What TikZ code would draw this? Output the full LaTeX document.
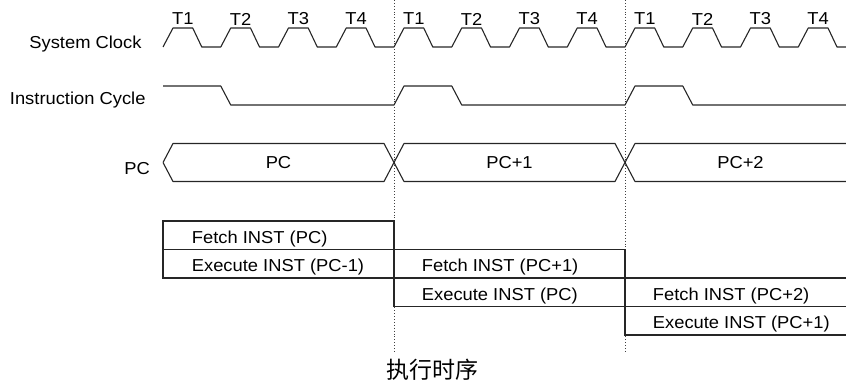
\documentclass[tikz,border=0pt]{standalone}
\usepackage{fontspec}
\setmainfont{Liberation Sans}[FakeStretch=1.06]
\newfontfamily\cjk{Noto Sans CJK SC}
\tikzset{
  wave/.style={line width=1.1pt, draw=black!85, line join=round},
  cellbox/.style={line width=1.1pt, draw=black!85},
  marker/.style={line width=0.9pt, draw=black!75, dotted},
  sigtext/.style={font=\fontsize{17.3}{20}\selectfont, inner sep=0pt, anchor=base east},
  tlabel/.style={font=\fontsize{17.3}{20}\selectfont, inner sep=0pt},
  celltext/.style={font=\fontsize{17.3}{20}\selectfont, inner sep=0pt, anchor=base west},
  caption/.style={font=\cjk\fontsize{23}{26}\selectfont, inner sep=0pt},
}
\begin{document}
\begin{tikzpicture}[x=1pt,y=-1pt]
\useasboundingbox (0,0) rectangle (846,385);
% cycle markers
\draw[marker] (394,0) -- (394,352);
\draw[marker] (625,0) -- (625,352);
% signal names
\node[sigtext] (clkname) at (141.7,49) {System Clock};
\node[sigtext] (cycname) at (145.7,105) {Instruction Cycle};
\node[sigtext] (pcname) at (150,174.3) {PC};
% system clock
\draw[wave] (163,47) -- (173,28) -- (192.75,28) -- (201.75,47)
  -- (220.75,47) -- (230.75,28) -- (250.5,28) -- (259.5,47)
  -- (278.5,47) -- (288.5,28) -- (308.25,28) -- (317.25,47)
  -- (336.25,47) -- (346.25,28) -- (366,28) -- (375,47)
  -- (394,47) -- (404,28) -- (423.75,28) -- (432.75,47)
  -- (451.75,47) -- (461.75,28) -- (481.5,28) -- (490.5,47)
  -- (509.5,47) -- (519.5,28) -- (539.25,28) -- (548.25,47)
  -- (567.25,47) -- (577.25,28) -- (597,28) -- (606,47)
  -- (625,47) -- (635,28) -- (654.75,28) -- (663.75,47)
  -- (682.75,47) -- (692.75,28) -- (712.5,28) -- (721.5,47)
  -- (740.5,47) -- (750.5,28) -- (770.25,28) -- (779.25,47)
  -- (798.25,47) -- (808.25,28) -- (828,28) -- (837,47) -- (846,47);
\node[tlabel] (ta1) at (182.9,19) {T1};
\node[tlabel] (ta2) at (240.6,19) {T2};
\node[tlabel] (ta3) at (298.4,19) {T3};
\node[tlabel] (ta4) at (356.1,19) {T4};
\node[tlabel] (tb1) at (413.9,19) {T1};
\node[tlabel] (tb2) at (471.6,19) {T2};
\node[tlabel] (tb3) at (529.4,19) {T3};
\node[tlabel] (tb4) at (587.1,19) {T4};
\node[tlabel] (tc1) at (644.9,19) {T1};
\node[tlabel] (tc2) at (702.6,19) {T2};
\node[tlabel] (tc3) at (760.4,19) {T3};
\node[tlabel] (tc4) at (818.1,19) {T4};
% instruction cycle
\draw[wave] (163,86) -- (220.75,86) -- (230.75,105) -- (394,105)
  -- (404,86) -- (451.75,86) -- (461.75,105) -- (625,105)
  -- (635,86) -- (682.75,86) -- (692.75,105) -- (846,105);
% program counter bus
\draw[wave] (163,162.5) -- (173,143.5) -- (384,143.5) -- (404,181.5)
  -- (615,181.5) -- (635,143.5) -- (846,143.5);
\draw[wave] (163,162.5) -- (173,181.5) -- (384,181.5) -- (404,143.5)
  -- (615,143.5) -- (635,181.5) -- (846,181.5);
\node[tlabel] (pc0) at (278.5,163) {PC};
\node[tlabel] (pc1) at (509.5,163) {PC+1};
\node[tlabel] (pc2) at (740.5,163) {PC+2};
% fetch / execute pipeline
\draw[cellbox] (163,221) rectangle (394,278);
\draw[cellbox] (163,249.5) -- (394,249.5);
\draw[cellbox] (394,249.5) rectangle (625,306.5);
\draw[cellbox] (394,278) -- (625,278);
\draw[cellbox] (846,278) -- (625,278) -- (625,335) -- (846,335);
\draw[cellbox] (625,306.5) -- (846,306.5);
\node[celltext] (fetcha) at (191.7,243) {Fetch INST (PC)};
\node[celltext] (execa) at (191.7,271.5) {Execute INST (PC-1)};
\node[celltext] (fetchb) at (421.7,271.5) {Fetch INST (PC+1)};
\node[celltext] (execb) at (421.7,300) {Execute INST (PC)};
\node[celltext] (fetchc) at (652.7,300) {Fetch INST (PC+2)};
\node[celltext] (execc) at (652.7,328.5) {Execute INST (PC+1)};
\node[caption] (title) at (432,370) {执行时序};
\end{tikzpicture}
\end{document}
